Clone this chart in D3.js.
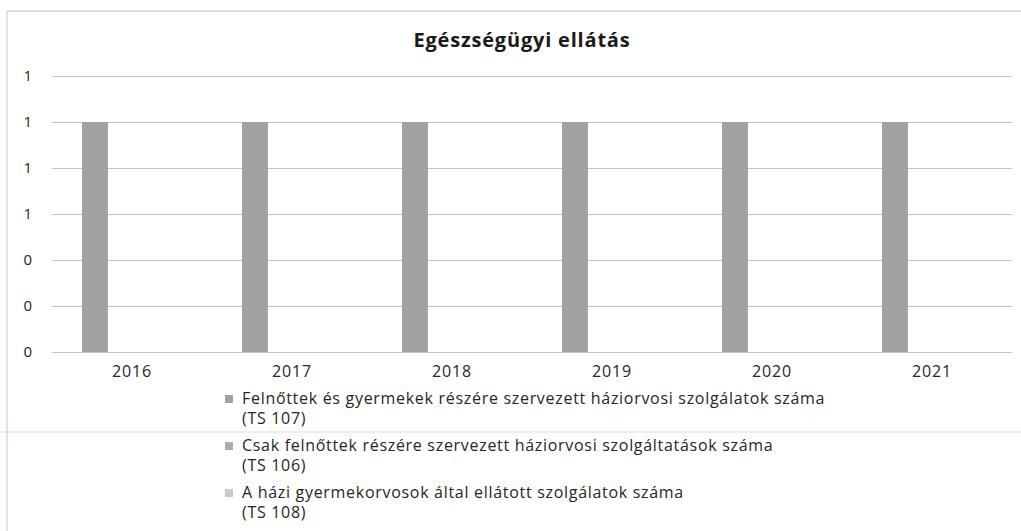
<!DOCTYPE html>
<meta charset="utf-8">
<style>
body { margin: 0; background: #fff; }
text { font-family: "Open Sans", "Noto Sans", sans-serif; fill: #262626; }
.grid line { stroke: #c4c4c4; stroke-width: 1; }
.grid path { display: none; }
</style>
<body>
<script src="https://d3js.org/d3.v7.min.js"></script>
<script>

// chart data
var years = ["2016", "2017", "2018", "2019", "2020", "2021"];
var seriesNames = [
  ["Felnőttek és gyermekek részére szervezett háziorvosi szolgálatok száma", "(TS 107)"],
  ["Csak felnőttek részére szervezett háziorvosi szolgáltatások száma", "(TS 106)"],
  ["A házi gyermekorvosok által ellátott szolgálatok száma", "(TS 108)"]
];
var ts107 = [1, 1, 1, 1, 1, 1];
var ts106 = [0, 0, 0, 0, 0, 0];
var ts108 = [0, 0, 0, 0, 0, 0];
var yTicks = [0, 0.2, 0.4, 0.6, 0.8, 1.0, 1.2];
var colors = ["#a2a2a2", "#ababab", "#c9c9ce"];

var series = [ts107, ts106, ts108];

var W = 1021, H = 531;
var margin = {top: 76, left: 52, right: 9, bottom: 179};
var width = W - margin.left - margin.right,
    height = H - margin.top - margin.bottom;

var svg = d3.select("body").append("svg")
    .attr("width", W)
    .attr("height", H);

// outer frame (top and left edges visible in the scan)
svg.append("line").attr("x1", 7).attr("x2", W).attr("y1", 11).attr("y2", 11)
    .attr("stroke", "#bdbdbd");
svg.append("line").attr("x1", 7).attr("x2", 7).attr("y1", 11).attr("y2", H)
    .attr("stroke", "#c8c8c8");

// title
svg.append("text")
    .attr("x", 522)
    .attr("y", 47)
    .attr("text-anchor", "middle")
    .attr("font-size", "20px")
    .attr("font-weight", "bold")
    .attr("letter-spacing", "0.8px")
    .style("fill", "#1a1a1a")
    .text("Egészségügyi ellátás");

var g = svg.append("g")
    .attr("transform", "translate(" + margin.left + "," + margin.top + ")");

var x0 = d3.scaleBand()
    .domain(years)
    .range([0, width])
    .paddingInner(0.375)
    .paddingOuter(0.1875);

var x1 = d3.scaleBand()
    .domain(d3.range(series.length))
    .range([0, x0.bandwidth()])
    .paddingInner(0.3);

var y = d3.scaleLinear()
    .domain([0, 1.2])
    .range([height, 0]);

// gridlines
g.append("g")
    .attr("class", "grid")
    .call(d3.axisLeft(y).tickValues(yTicks).tickSize(-width).tickFormat(""));

// y labels
g.append("g")
    .call(d3.axisLeft(y).tickValues(yTicks).tickSize(0).tickPadding(20).tickFormat(d3.format(".0f")))
    .call(function(s) { s.select(".domain").remove(); })
    .selectAll("text")
      .attr("font-size", "15px")
      .style("font-family", "'Open Sans', sans-serif")
      .style("fill", "#262626");

// bars
var groups = g.selectAll(".year")
    .data(years)
  .enter().append("g")
    .attr("transform", function(d) { return "translate(" + x0(d) + ",0)"; });

groups.selectAll("rect")
    .data(function(d, i) { return series.map(function(s, k) { return {k: k, v: s[i]}; }); })
  .enter().append("rect")
    .attr("x", function(d) { return x1(d.k); })
    .attr("width", x1.bandwidth())
    .attr("y", function(d) { return y(d.v); })
    .attr("height", function(d) { return height - y(d.v); })
    .attr("fill", function(d) { return colors[d.k]; });

// x labels, centred on the category
g.append("g")
    .attr("transform", "translate(0," + height + ")")
    .call(d3.axisBottom(x0.copy().paddingInner(0).paddingOuter(0)).tickSize(0).tickPadding(14))
    .call(function(s) { s.select(".domain").remove(); })
    .selectAll("text")
      .attr("font-size", "16px")
      .attr("letter-spacing", "0.8px")
      .style("font-family", "'Open Sans', sans-serif")
      .style("fill", "#262626");

// scanner artefact line
svg.append("line").attr("x1", 0).attr("x2", W).attr("y1", 432).attr("y2", 432)
    .attr("stroke", "#f3cfd6");

// legend
var legend = svg.append("g").attr("transform", "translate(225,392)");
var item = legend.selectAll("g")
    .data(seriesNames)
  .enter().append("g")
    .attr("transform", function(d, i) { return "translate(0," + (i * 47) + ")"; });

item.append("rect")
    .attr("x", 0).attr("y", 3)
    .attr("width", 8).attr("height", 8)
    .attr("fill", function(d, i) { return colors[i]; });

item.append("text")
    .attr("x", 17)
    .attr("y", 12)
    .attr("font-size", "16px")
    .attr("letter-spacing", "0.7px")
    .text(function(d) { return d[0]; });

item.append("text")
    .attr("x", 17)
    .attr("y", 32)
    .attr("font-size", "16px")
    .attr("letter-spacing", "0.7px")
    .text(function(d) { return d[1]; });

</script>
</body>
